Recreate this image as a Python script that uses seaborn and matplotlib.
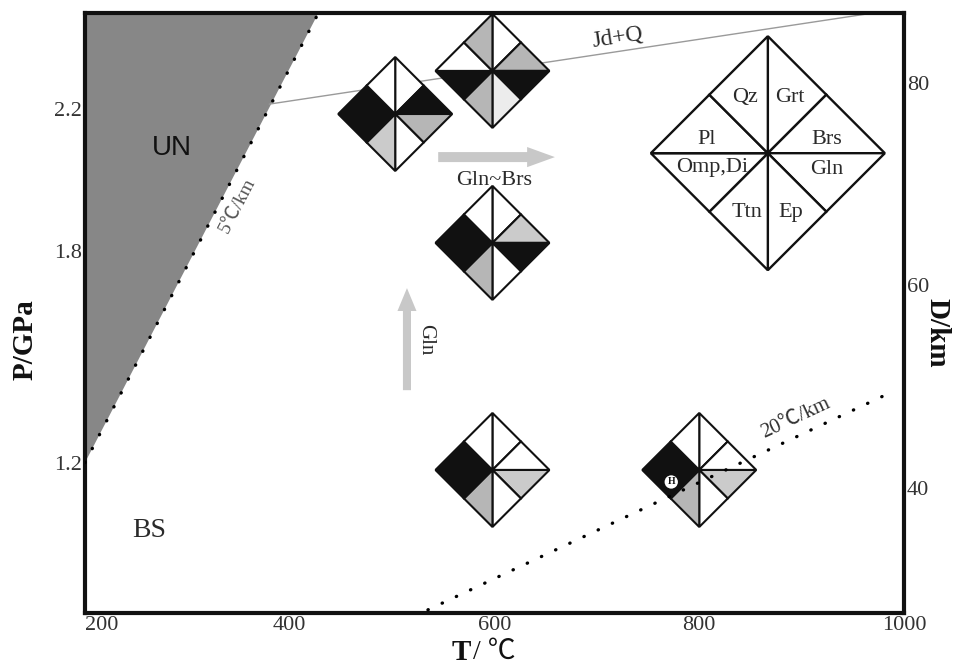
import numpy as np
import pandas as pd
import matplotlib
matplotlib.use("Agg")
import matplotlib.pyplot as plt
import seaborn as sns
from matplotlib.patches import Polygon, Circle, FancyArrowPatch
from matplotlib import transforms

# ---------------- data ----------------
t_ticks = [200, 400, 600, 800, 1000]
p_ticks = [1.2, 1.8, 2.2]
d_ticks = [40, 60, 80]

geo5_T = [200, 428]          # 5 C/km geotherm
geo5_P = [1.20, 2.473]
geo20_T = [535, 986]         # 20 C/km geotherm
geo20_P = [0.783, 1.397]
jdq_T = [380, 970]           # Jd+Q reaction line
jdq_P = [2.215, 2.473]

minerals = ["Grt", "Brs", "Gln", "Ep", "Ttn", "Omp,Di", "Pl", "Qz"]
diamond_T = [503, 598, 598, 598, 800]
diamond_P = [2.187, 2.309, 1.822, 1.179, 1.179]
# abundance level per mineral: 0 absent ... 4 abundant
diamond_levels = [
    [0, 4, 3, 0, 2, 4, 4, 0],
    [0, 3, 4, 1, 3, 4, 0, 3],
    [0, 2, 4, 0, 3, 4, 4, 0],
    [0, 0, 2, 0, 3, 4, 4, 0],
    [0, 0, 2, 0, 3, 4, 4, 0],
]
legend_T, legend_P = 867, 2.076

# ---------------- style ----------------
sns.set_theme(style="white")
serif = ["Liberation Serif", "Noto Sans CJK SC", "DejaVu Sans"]
plt.rcParams["font.family"] = serif
plt.rcParams["axes.unicode_minus"] = False

shade = {0: "#ffffff", 1: "#ececec", 2: "#cbcbcb", 3: "#b6b6b6", 4: "#111111"}
txtc = "#2a2a2a"

fig = plt.figure(figsize=(9.56, 6.71), dpi=100)
ax = fig.add_axes([85 / 956, 58 / 671, 819 / 956, 600 / 671])
ax.set_xlim(200, 1000)
ax.set_ylim(0.774, 2.473)

# UN field
ax.fill([200, geo5_T[1], geo5_T[0], 200],
        [2.473, geo5_P[1], geo5_P[0], geo5_P[0]],
        color="#878787", lw=0, zorder=1)

dotted = dict(color="black", lw=2.4, linestyle=(0, (0.1, 4.6)),
              dash_capstyle="round", sort=False, estimator=None)
sns.lineplot(data=pd.DataFrame({"T": geo5_T, "P": geo5_P}), x="T", y="P",
             ax=ax, zorder=6, **dotted)
sns.lineplot(data=pd.DataFrame({"T": geo20_T, "P": geo20_P}), x="T", y="P",
             ax=ax, zorder=6, **dotted)
sns.lineplot(data=pd.DataFrame({"T": jdq_T, "P": jdq_P}), x="T", y="P",
             ax=ax, color="#9a9a9a", lw=1.0, sort=False, estimator=None, zorder=2)


def sector_polys(h):
    c = (0, 0)
    pts = [(0, h), (h / 2, h / 2), (h, 0), (h / 2, -h / 2), (0, -h),
           (-h / 2, -h / 2), (-h, 0), (-h / 2, h / 2), (0, h)]
    return [[c, pts[i], pts[i + 1]] for i in range(8)]


def place(T, P):
    return fig.dpi_scale_trans + transforms.ScaledTranslation(T, P, ax.transData)


# sample diamonds
for T, P, lev in zip(diamond_T, diamond_P, diamond_levels):
    tr = place(T, P)
    for poly, l in zip(sector_polys(0.57), lev):
        ax.add_patch(Polygon(poly, closed=True, transform=tr, facecolor=shade[l],
                             edgecolor="#111111", lw=1.5, joinstyle="miter",
                             zorder=4, clip_on=False))

# H marker on the 800 C diamond
trH = place(diamond_T[4], diamond_P[4])
ax.add_patch(Circle((-0.28, -0.12), 0.075, transform=trH, facecolor="white",
                    edgecolor="#111111", lw=1.2, zorder=7))
ax.text(-0.28, -0.12, "H", transform=trH, ha="center", va="center",
        fontsize=7, fontweight="bold", color="#111111", zorder=8)

# legend diamond
trL = place(legend_T, legend_P)
for poly in sector_polys(1.17):
    ax.add_patch(Polygon(poly, closed=True, transform=trL, facecolor="white",
                         edgecolor="#111111", lw=1.7, zorder=4, clip_on=False))
lab_off = [(0.22, 0.56), (0.59, 0.14), (0.59, -0.16), (0.23, -0.59),
           (-0.21, -0.59), (-0.56, -0.14), (-0.61, 0.14), (-0.23, 0.56)]
for name, (dx, dy) in zip(minerals, lab_off):
    ax.text(dx, dy, name, transform=trL, ha="center", va="center",
            fontsize=16, color=txtc, zorder=5)

# arrows
ax.add_patch(FancyArrowPatch((545, 2.065), (659, 2.065),
             arrowstyle="simple,head_length=2.0,head_width=1.45,tail_width=0.72",
             mutation_scale=10, color="#c8c8c8", lw=0, shrinkA=0, shrinkB=0, zorder=3))
ax.add_patch(FancyArrowPatch((514.5, 1.405), (514.5, 1.694),
             arrowstyle="simple,head_length=1.65,head_width=1.37,tail_width=0.58",
             mutation_scale=10, color="#c8c8c8", lw=0, shrinkA=0, shrinkB=0, zorder=3))

# annotations
ax.text(600, 2.0, "Gln~Brs", ha="center", va="center", fontsize=16, color=txtc, zorder=5)
ax.text(533, 1.547, "Gln", ha="center", va="center", rotation=-90, fontsize=15,
        color=txtc, zorder=5)
ax.text(720, 2.405, "Jd+Q", ha="center", va="center", rotation=8.5, fontsize=17,
        color=txtc, zorder=5)
ax.text(349, 1.929, "5℃/km", ha="center", va="center", rotation=62.5, fontsize=14,
        color="#555555", rotation_mode="anchor", zorder=5)
ax.text(894, 1.326, "20℃/km", ha="center", va="center", rotation=25, fontsize=15,
        color="#333333", rotation_mode="anchor", zorder=5)
ax.text(285, 2.09, "UN", ha="center", va="center", fontsize=20,
        family=["Liberation Sans", "DejaVu Sans"], color="#111111", zorder=5)
ax.text(263, 1.009, "BS", ha="center", va="center", fontsize=20, color=txtc, zorder=5)

# axes styling
ax.set_xlabel("")
ax.set_ylabel("")
ax.set_xticks(t_ticks)
ax.set_xticklabels([str(t) for t in t_ticks])
ax.set_yticks(p_ticks)
ax.set_yticklabels([f"{p:.1f}" for p in p_ticks])
ax.tick_params(axis="both", length=0, labelsize=16, labelcolor="#333333", pad=2)
ax.get_xticklabels()[0].set_ha("left")
for sp in ax.spines.values():
    sp.set_linewidth(3.0)
    sp.set_color("#111111")

ax2 = ax.twinx()
ax2.set_ylim(27.65, 86.9)
ax2.set_yticks(d_ticks)
ax2.set_yticklabels([str(d) for d in d_ticks])
ax2.tick_params(axis="y", length=0, labelsize=16, labelcolor="#333333", pad=2)
for sp in ax2.spines.values():
    sp.set_visible(False)

fig.text(25 / 956, 1 - 340 / 671, "P/GPa", rotation=90, ha="center", va="center",
         fontsize=21, fontweight="bold", color="#111111")
fig.text(937 / 956, 1 - 333 / 671, "D/km", rotation=-90, ha="center", va="center",
         fontsize=21, fontweight="bold", color="#111111")
fig.text(471 / 956, 1 - 652 / 671, "T", ha="right", va="center", fontsize=21,
         fontweight="bold", color="#111111")
fig.text(473 / 956, 1 - 652 / 671, "/ ℃", ha="left", va="center", fontsize=20,
         color="#111111")

fig.savefig("out.png", dpi=100)
